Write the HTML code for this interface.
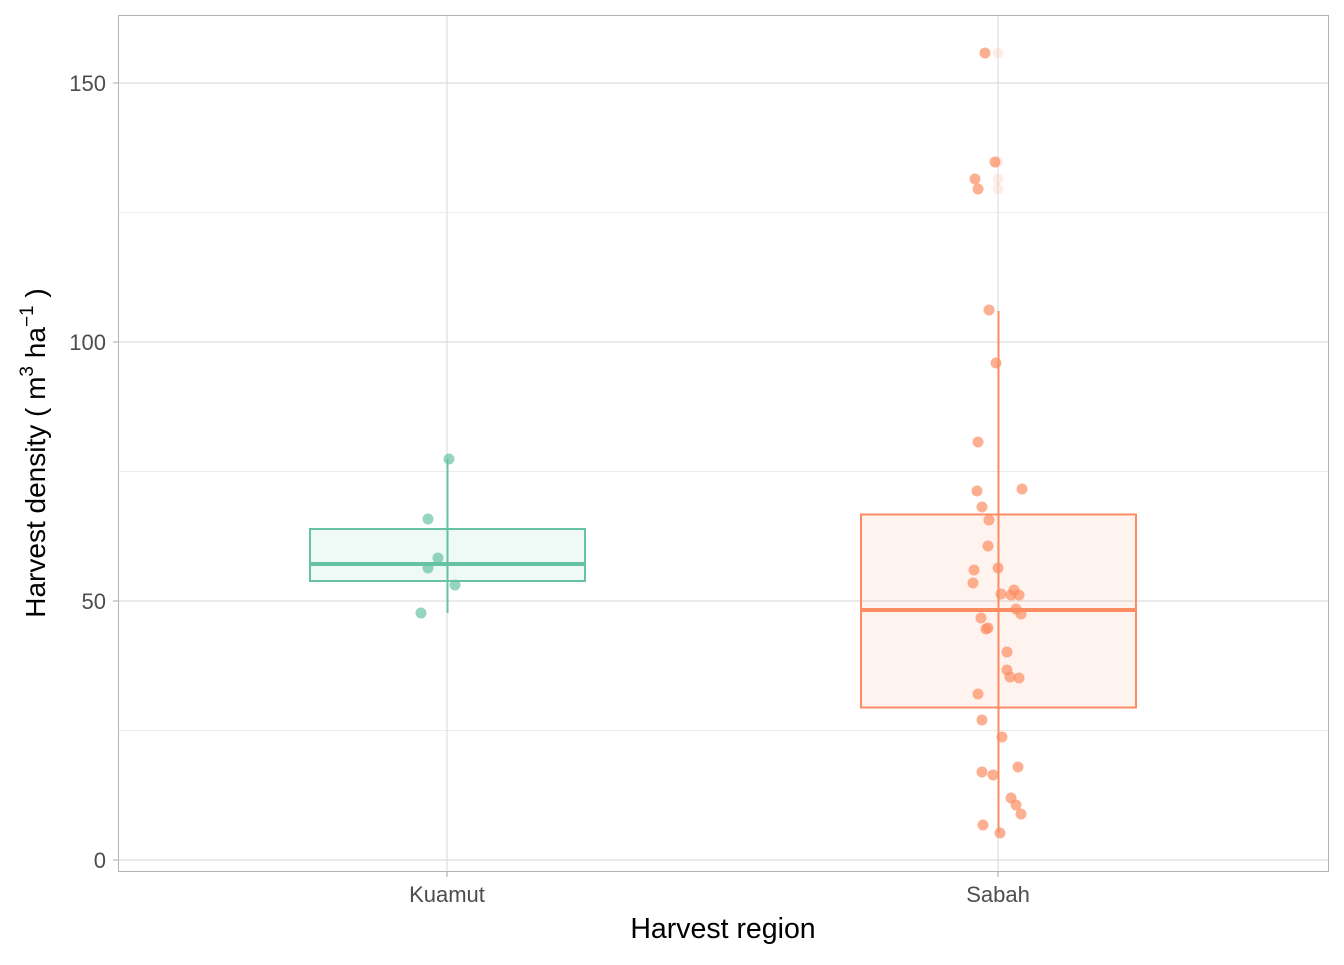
<!DOCTYPE html>
<html><head><meta charset="utf-8"><style>body{margin:0;background:#fff}</style></head><body>
<svg width="1344" height="960" xmlns="http://www.w3.org/2000/svg" font-family="Liberation Sans, sans-serif">
<rect x="0" y="0" width="1344" height="960" fill="#fff"/>
<g stroke="#ebebeb" stroke-width="1">
<line x1="118" x2="1328" y1="212.5" y2="212.5"/><line x1="118" x2="1328" y1="471.5" y2="471.5"/><line x1="118" x2="1328" y1="730.5" y2="730.5"/>
</g>
<g stroke="#dedede" stroke-width="1.2">
<line x1="118" x2="1328" y1="83" y2="83"/><line x1="118" x2="1328" y1="342" y2="342"/><line x1="118" x2="1328" y1="601" y2="601"/><line x1="118" x2="1328" y1="860" y2="860"/>
<line x1="447" x2="447" y1="15" y2="871"/><line x1="998" x2="998" y1="15" y2="871"/>
</g>
<line x1="447.5" x2="447.5" y1="459" y2="613" stroke="#66c2a5" stroke-width="2"/>
<rect x="310" y="529" width="275" height="52" fill="#66c2a5" fill-opacity="0.1" stroke="#66c2a5" stroke-width="2"/>
<line x1="310" x2="585" y1="564" y2="564" stroke="#66c2a5" stroke-width="4"/>
<g fill="#66c2a5" fill-opacity="0.7">
<circle cx="449" cy="459" r="5.5"/><circle cx="428" cy="519" r="5.5"/><circle cx="438" cy="558" r="5.5"/><circle cx="428" cy="568" r="5.5"/><circle cx="455" cy="585" r="5.5"/><circle cx="421" cy="613" r="5.5"/>
</g>
<g fill="#fc8d62" fill-opacity="0.15">
<circle cx="998" cy="53" r="5.5"/><circle cx="998" cy="162" r="5.5"/><circle cx="998" cy="179" r="5.5"/><circle cx="998" cy="189" r="5.5"/>
</g>
<line x1="998.5" x2="998.5" y1="311" y2="833" stroke="#fc8d62" stroke-width="2"/>
<rect x="861" y="514.5" width="275" height="193" fill="#fc8d62" fill-opacity="0.1" stroke="#fc8d62" stroke-width="2"/>
<line x1="861" x2="1136" y1="610" y2="610" stroke="#fc8d62" stroke-width="4"/>
<g fill="#fc8d62" fill-opacity="0.7">
<circle cx="985" cy="53" r="5.5"/><circle cx="995" cy="162" r="5.5"/><circle cx="975" cy="179" r="5.5"/><circle cx="978" cy="189" r="5.5"/><circle cx="989" cy="310" r="5.5"/><circle cx="996" cy="363" r="5.5"/><circle cx="978" cy="442" r="5.5"/><circle cx="977" cy="491" r="5.5"/><circle cx="1022" cy="489" r="5.5"/><circle cx="982" cy="507" r="5.5"/><circle cx="989" cy="520" r="5.5"/><circle cx="988" cy="546" r="5.5"/><circle cx="998" cy="568" r="5.5"/><circle cx="974" cy="570" r="5.5"/><circle cx="973" cy="583" r="5.5"/><circle cx="1014" cy="590" r="5.5"/><circle cx="1001" cy="594" r="5.5"/><circle cx="1011" cy="595" r="5.5"/><circle cx="1019" cy="595" r="5.5"/><circle cx="1016" cy="609" r="5.5"/><circle cx="1021" cy="614" r="5.5"/><circle cx="981" cy="618" r="5.5"/><circle cx="988" cy="628" r="5.5"/><circle cx="986" cy="629" r="5.5"/><circle cx="1007" cy="652" r="5.5"/><circle cx="1007" cy="670" r="5.5"/><circle cx="1010" cy="677" r="5.5"/><circle cx="1019" cy="678" r="5.5"/><circle cx="978" cy="694" r="5.5"/><circle cx="982" cy="720" r="5.5"/><circle cx="1002" cy="737" r="5.5"/><circle cx="1018" cy="767" r="5.5"/><circle cx="982" cy="772" r="5.5"/><circle cx="993" cy="775" r="5.5"/><circle cx="1011" cy="798" r="5.5"/><circle cx="1016" cy="805" r="5.5"/><circle cx="1021" cy="814" r="5.5"/><circle cx="983" cy="825" r="5.5"/><circle cx="1000" cy="833" r="5.5"/>
</g>
<rect x="118.5" y="15.5" width="1210" height="856" fill="none" stroke="#b3b3b3" stroke-width="1"/>
<g stroke="#b3b3b3" stroke-width="1.2">
<line x1="113" x2="118" y1="83" y2="83"/><line x1="113" x2="118" y1="342" y2="342"/><line x1="113" x2="118" y1="601" y2="601"/><line x1="113" x2="118" y1="860" y2="860"/>
<line x1="447" x2="447" y1="872" y2="877"/><line x1="998" x2="998" y1="872" y2="877"/>
</g>
<g fill="#4d4d4d" font-size="22" text-anchor="end">
<text x="106" y="91">150</text><text x="106" y="350">100</text><text x="106" y="609">50</text><text x="106" y="868">0</text>
</g>
<g fill="#4d4d4d" font-size="22" text-anchor="middle">
<text x="447" y="902">Kuamut</text><text x="998" y="902">Sabah</text>
</g>
<text x="723" y="938" font-size="28.5" text-anchor="middle" fill="#000">Harvest region</text>
<text transform="translate(45,453) rotate(-90)" font-size="28" text-anchor="middle" fill="#000">Harvest density ( m<tspan font-size="19" dy="-12">3</tspan><tspan dy="12"> ha</tspan><tspan font-size="19" dy="-12">−1</tspan><tspan dy="12"> )</tspan></text>
</svg>
</body></html>
